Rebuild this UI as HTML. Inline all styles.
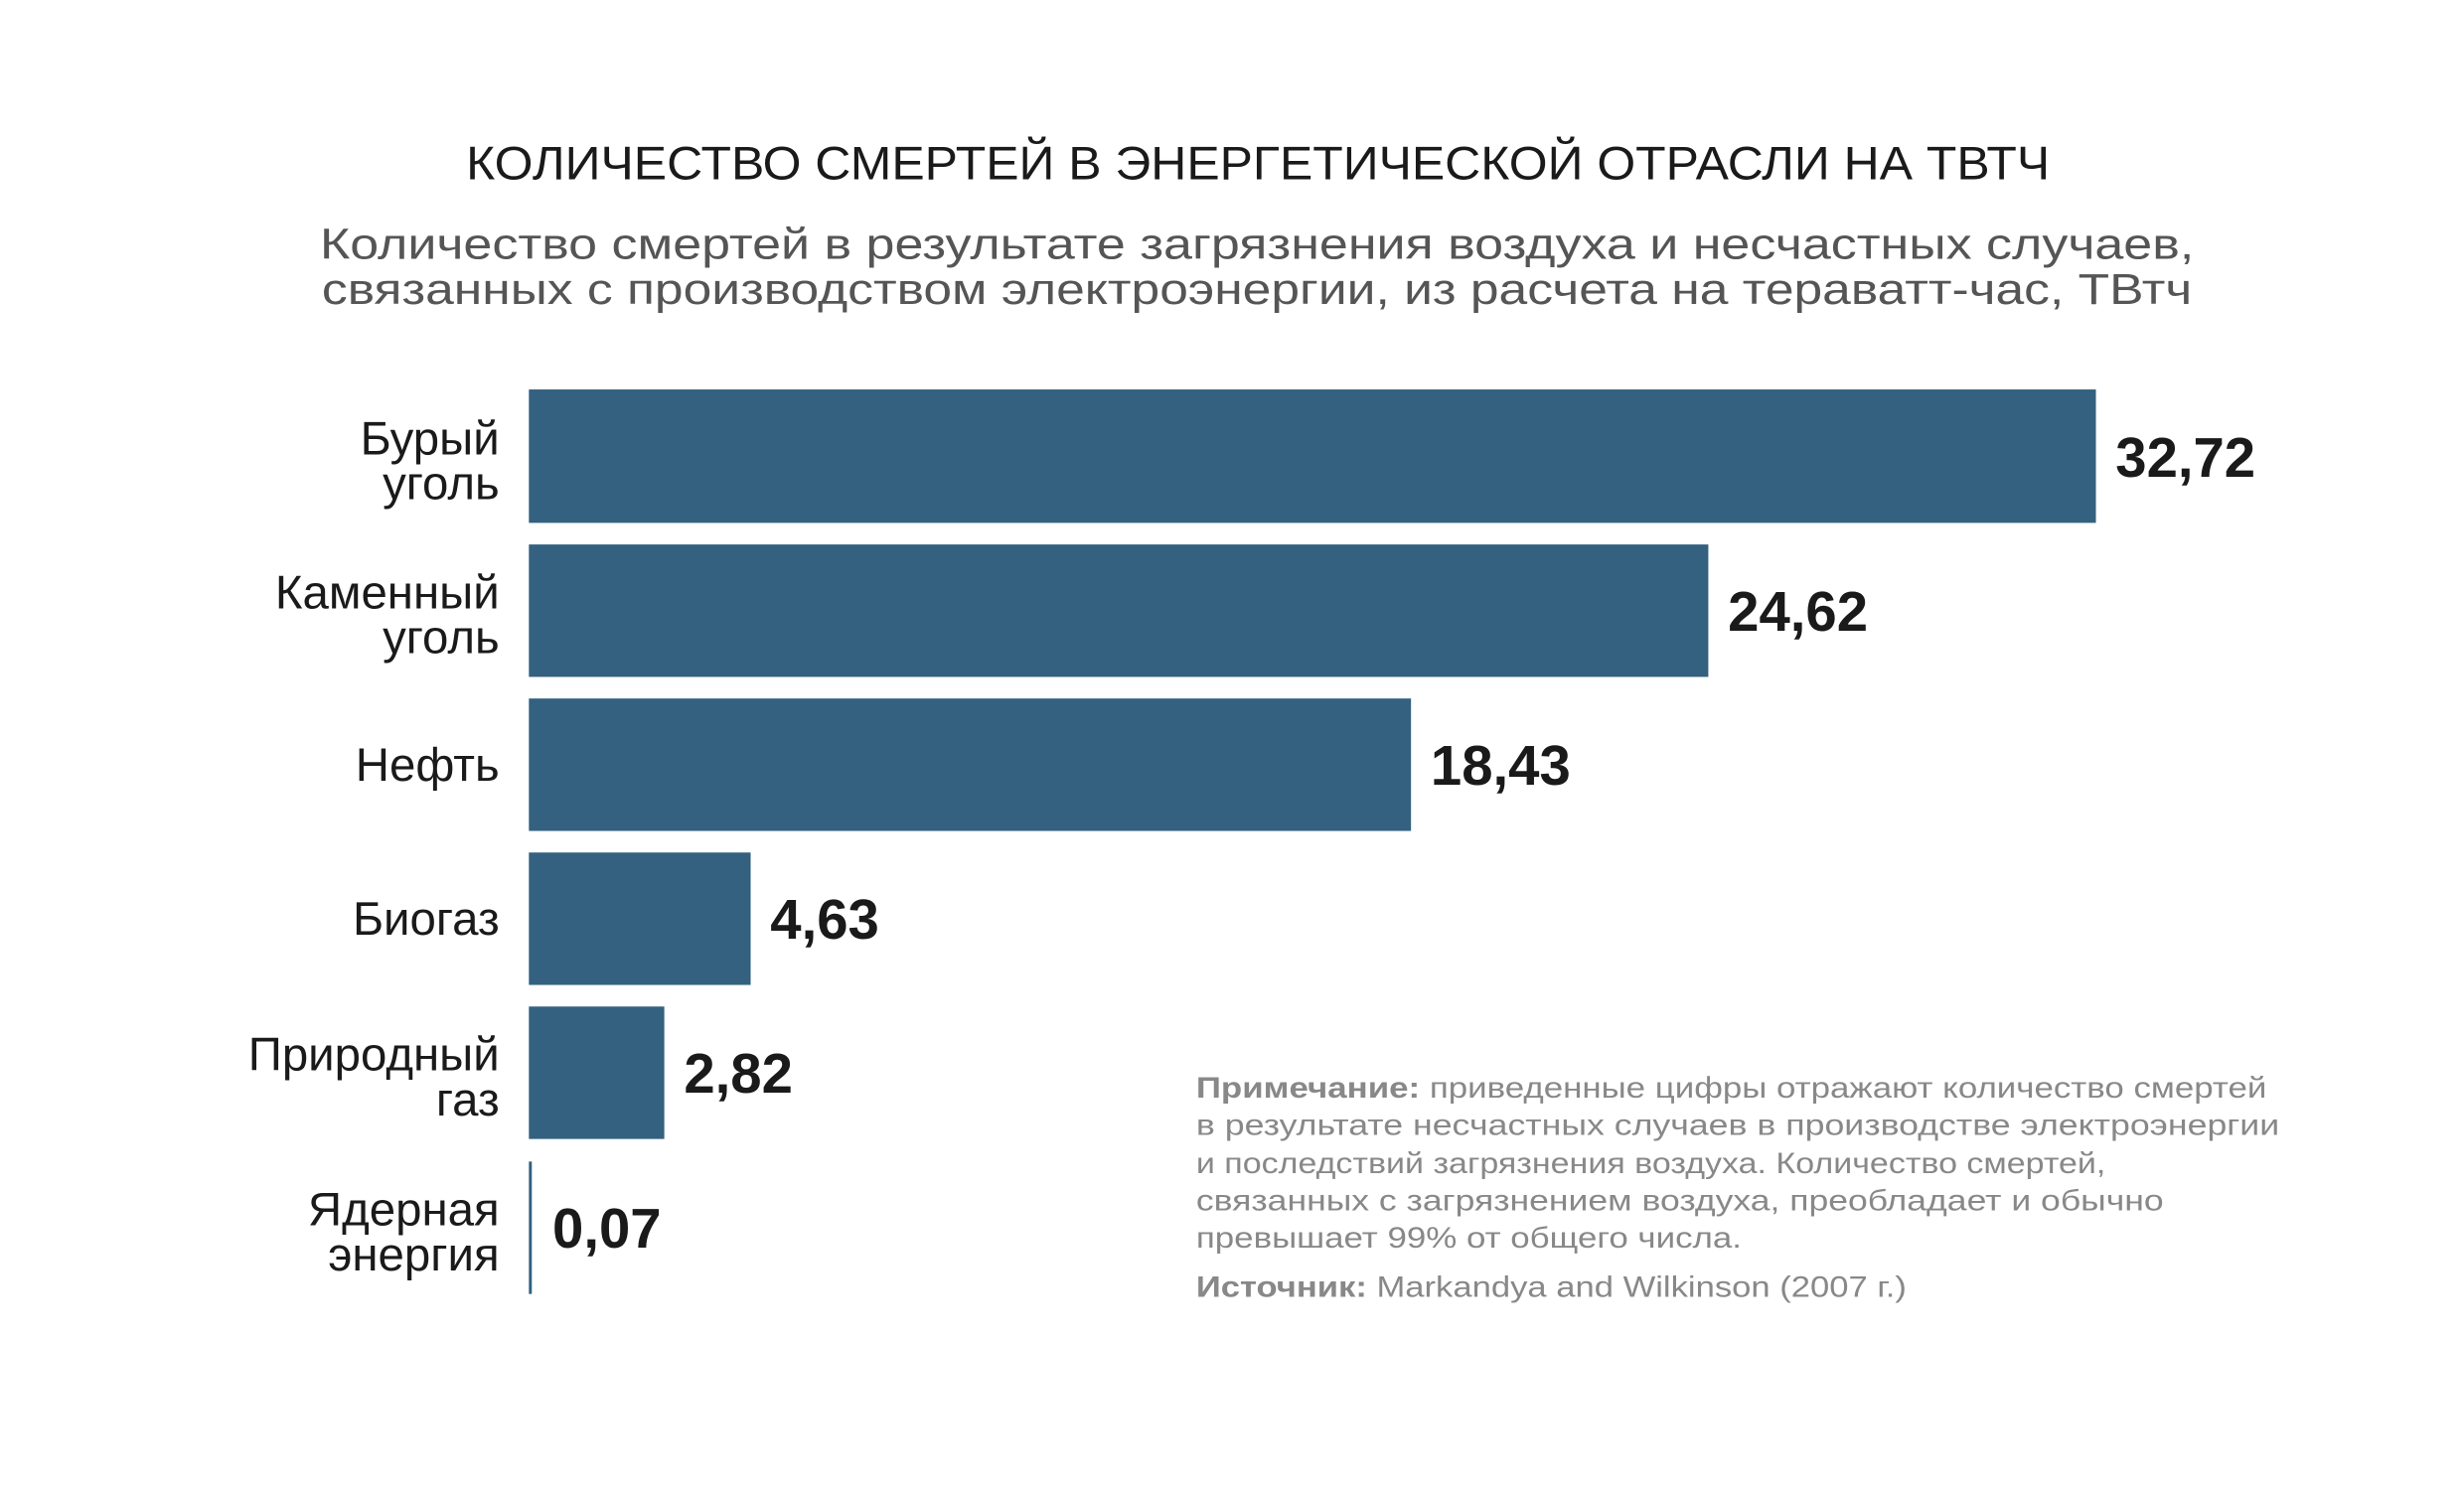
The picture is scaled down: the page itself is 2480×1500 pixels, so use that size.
<!DOCTYPE html>
<html><head><meta charset="utf-8"><style>
html,body{margin:0;padding:0;background:#fff;}
svg{display:block;}
text{font-family:"Liberation Sans",sans-serif;}
</style></head><body>
<svg width="2480" height="1500" viewBox="0 0 2480 1500" xmlns="http://www.w3.org/2000/svg">
<rect width="2480" height="1500" fill="#fff"/>
<g transform="scale(0.9876)">
<text x="1282" y="183" text-anchor="middle" font-size="48" fill="#1a1a1a" textLength="1614" lengthAdjust="spacingAndGlyphs">КОЛИЧЕСТВО СМЕРТЕЙ В ЭНЕРГЕТИЧЕСКОЙ ОТРАСЛИ НА ТВТЧ</text>
<text x="1281" y="264" text-anchor="middle" font-size="44" fill="#555" textLength="1910" lengthAdjust="spacingAndGlyphs">Количество смертей в результате загрязнения воздуха и несчастных случаев,</text>
<text x="1281" y="310" text-anchor="middle" font-size="44" fill="#555" textLength="1906" lengthAdjust="spacingAndGlyphs">связанных с производством электроэнергии, из расчета на тераватт-час, ТВтч</text>
<g fill="#33617f">
<rect x="539" y="397" width="1597" height="136"/>
<rect x="539" y="555" width="1202" height="135"/>
<rect x="539" y="712" width="899" height="135"/>
<rect x="539" y="869" width="226" height="135"/>
<rect x="539" y="1026" width="138" height="135"/>
<rect x="539" y="1184" width="3" height="135"/>
</g>
<g font-size="48" fill="#1a1a1a" text-anchor="end">
<text x="509" y="463">Бурый</text><text x="509" y="509">уголь</text>
<text x="509" y="620">Каменный</text><text x="509" y="666">уголь</text>
<text x="509" y="796">Нефть</text>
<text x="509" y="953">Биогаз</text>
<text x="509" y="1091">Природный</text><text x="509" y="1137">газ</text>
<text x="509" y="1249">Ядерная</text><text x="509" y="1295">энергия</text>
</g>
<g font-size="57" font-weight="bold" fill="#1a1a1a">
<text x="2156" y="486">32,72</text>
<text x="1761" y="643">24,62</text>
<text x="1458" y="800">18,43</text>
<text x="785" y="957">4,63</text>
<text x="697" y="1114">2,82</text>
<text x="563" y="1272">0,07</text>
</g>
<g font-size="30" fill="#888">
<text x="1219" y="1119" textLength="1091" lengthAdjust="spacingAndGlyphs"><tspan font-weight="bold">Примечание:</tspan> приведенные цифры отражают количество смертей</text>
<text x="1219" y="1157" textLength="1104" lengthAdjust="spacingAndGlyphs">в результате несчастных случаев в производстве электроэнергии</text>
<text x="1219" y="1196" textLength="927" lengthAdjust="spacingAndGlyphs">и последствий загрязнения воздуха. Количество смертей,</text>
<text x="1219" y="1234" textLength="986" lengthAdjust="spacingAndGlyphs">связанных с загрязнением воздуха, преобладает и обычно</text>
<text x="1219" y="1272" textLength="556" lengthAdjust="spacingAndGlyphs">превышает 99% от общего числа.</text>
<text x="1219" y="1322" textLength="724" lengthAdjust="spacingAndGlyphs"><tspan font-weight="bold">Источник:</tspan> Markandya and Wilkinson (2007 г.)</text>
</g>
</g>
</svg>
</body></html>
